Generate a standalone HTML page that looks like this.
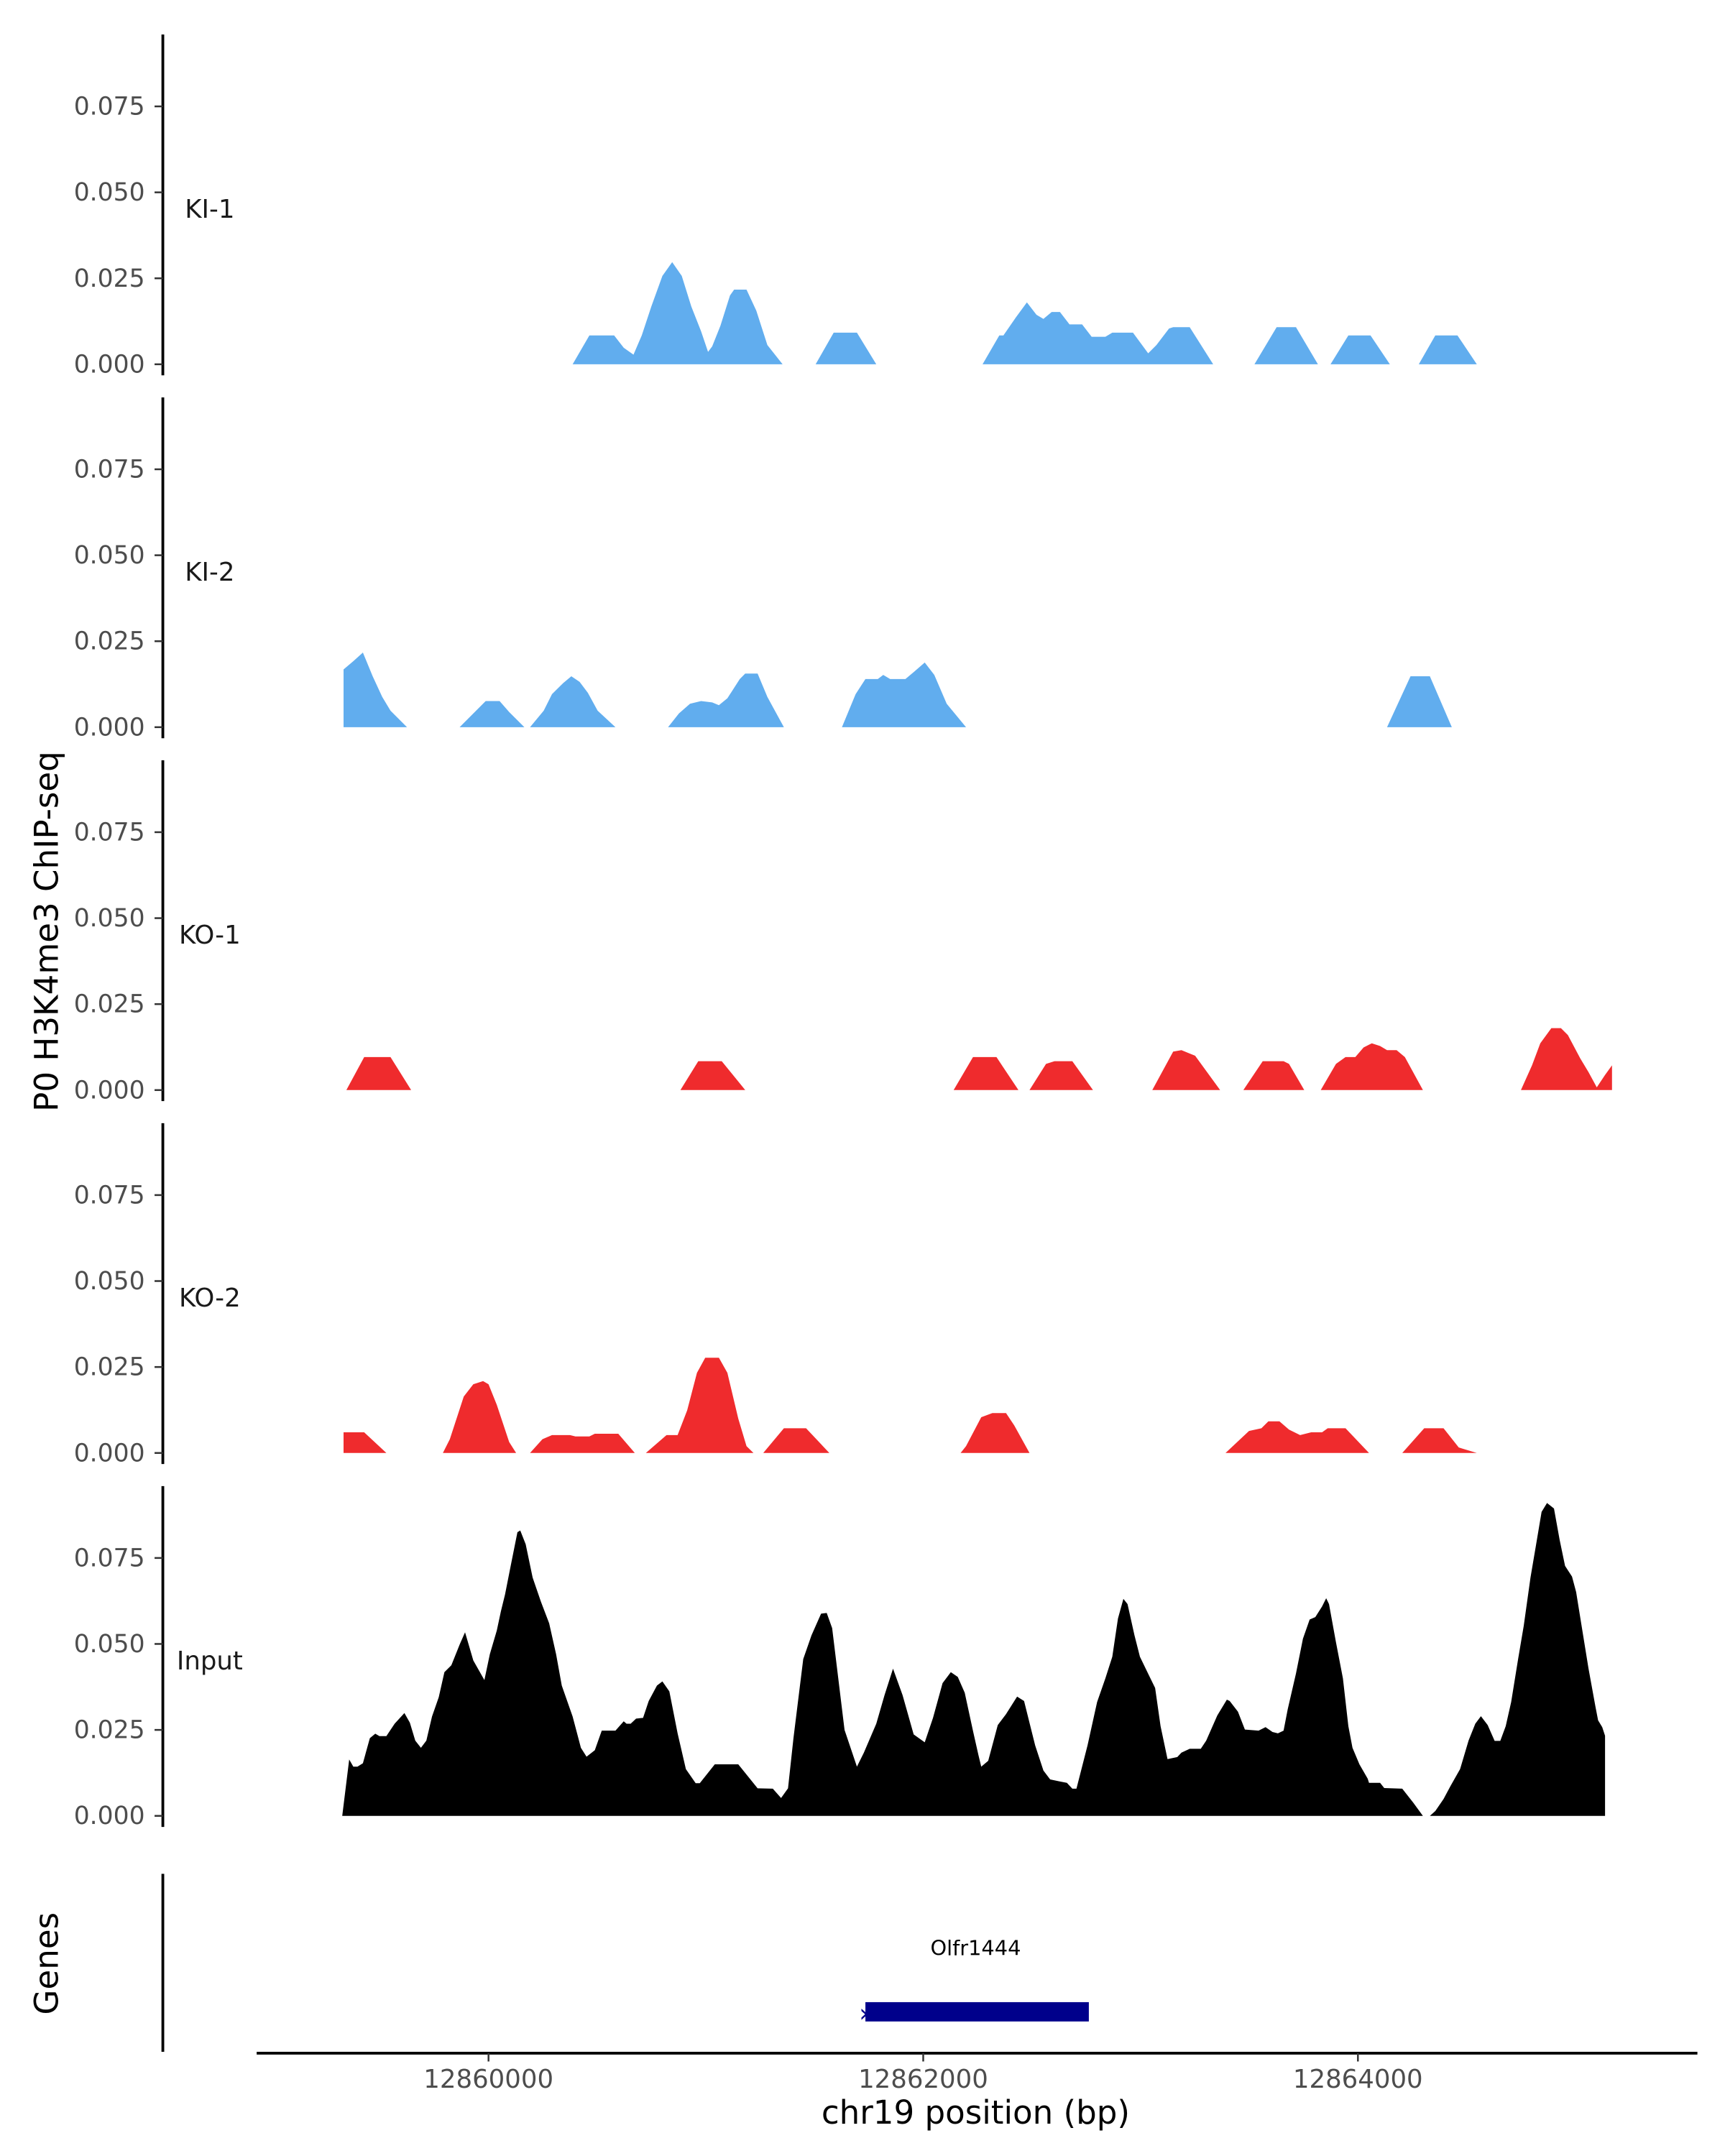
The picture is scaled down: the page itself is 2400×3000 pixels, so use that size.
<!DOCTYPE html>
<html><head><meta charset="utf-8"><style>
html,body{margin:0;padding:0;background:#fff;}
svg{display:block;font-family:"DejaVu Sans","Liberation Sans",sans-serif;}
</style></head><body>
<svg id="chart" width="2400" height="3000" viewBox="0 0 1250 1562.5" xmlns="http://www.w3.org/2000/svg">
<text x="0" y="0" transform="translate(42,675) rotate(-90)" text-anchor="middle" font-size="23.5" fill="#000">P0 H3K4me3 ChIP-seq</text>
<text x="0" y="0" transform="translate(42,1423) rotate(-90)" text-anchor="middle" font-size="23.5" fill="#000">Genes</text>
<text x="707" y="1539" text-anchor="middle" font-size="23.5" fill="#000">chr19 position (bp)</text>
<line x1="118" y1="1358" x2="118" y2="1487" stroke="#000" stroke-width="2"/>
<line x1="186" y1="1488" x2="1230" y2="1488" stroke="#000" stroke-width="2"/>
<text x="707" y="1417" text-anchor="middle" font-size="15" fill="#000">Olfr1444</text>
<g id="panels"></g>
</svg>
<script>
const chromBase = 12860000;
const valueUnit = 0.001;
const xTicks = [12860000, 12862000, 12864000];
const yTicks = [0, 0.025, 0.05, 0.075];
const yTickLabels = ["0.000", "0.025", "0.050", "0.075"];
const panelNames = ["KI-1", "KI-2", "KO-1", "KO-2", "Input"];
const panelColors = ["#61adee", "#61adee", "#ef2b2d", "#ef2b2d", "#000000"];
const geneStart = 12861734;
const geneEnd = 12862762;

const ki1Pos = [387,464,578,622,667,705,749,800,845,889,933,978,1010,1029,1067,1111,1130,1187,1232,1283,1353,1505,1588,1695,1784,2273,2350,2369,2426,2477,2521,2553,2591,2629,2673,2731,2775,2838,2870,2965,3035,3073,3131,3150,3226,3334,3524,3626,3715,3816,3874,3956,4058,4147,4280,4356,4458,4547];
const ki1Val = [0,8.4,8.4,4.8,2.8,8.4,16.8,25.7,29.7,25.7,16.8,9.6,3.6,5.2,11.2,20,21.7,21.7,15.6,5.6,0,0,9.2,9.2,0,0,8.4,8.4,13.6,18,14.4,13.2,15.2,15.2,11.6,11.6,8,8,9.2,9.2,3.2,5.6,10.4,10.8,10.8,0,0,10.8,10.8,0,0,8.4,8.4,0,0,8.4,8.4,0];

const ki2Pos = [-667,-667,-622,-578,-533,-489,-451,-375,-133,-51,-13,51,95,165,191,254,292,343,381,419,457,502,584,826,876,927,978,1029,1060,1099,1156,1181,1238,1283,1359,1626,1689,1734,1791,1816,1848,1918,1956,2007,2051,2108,2197,4134,4242,4331,4432];
const ki2Val = [0,16.8,19.2,21.7,14.8,8.8,4.8,0,0,5.2,7.6,7.6,4.4,0,0,4.8,9.6,12.8,14.8,13.2,10,4.8,0,0,4,6.8,7.6,7.2,6.4,8.4,14,15.6,15.6,8.8,0,0,9.6,14,14,15.2,14,14,16,18.8,15.2,6.8,0,0,14.8,14.8,0];

const ko1Pos = [-654,-572,-451,-356,883,965,1073,1181,2140,2229,2337,2438,2489,2565,2604,2686,2781,3054,3150,3188,3251,3366,3473,3562,3658,3683,3753,3829,3899,3943,3988,4026,4064,4102,4134,4178,4216,4299,4750,4801,4839,4890,4934,4966,5023,5061,5099,5137,5169,5169];
const ko1Val = [0,9.6,9.6,0,0,8.4,8.4,0,0,9.6,9.6,0,0,7.6,8.4,8.4,0,0,11.2,11.6,10,0,0,8.4,8.4,7.6,0,0,7.6,9.6,9.6,12.4,13.6,12.8,11.6,11.6,9.6,0,0,7.2,13.6,18,18,16,9.2,5.2,0.8,4.4,7.2,0];

const ko2Pos = [-667,-667,-572,-470,-210,-178,-114,-70,-25,0,38,95,127,191,248,292,375,400,464,489,597,673,724,819,870,914,959,997,1060,1099,1149,1187,1219,1264,1359,1461,1568,2172,2197,2267,2318,2381,2419,2489,3391,3499,3556,3588,3639,3683,3734,3785,3835,3861,3943,4051,4204,4305,4394,4464,4547];
const ko2Val = [0,6,6,0,0,4,16.4,20,20.9,20,14,3.2,0,0,4,5.2,5.2,4.8,4.8,5.6,5.6,0,0,5.2,5.2,12.4,23.3,27.7,27.7,23.3,10,2,0,0,7.2,7.2,0,0,2,10.4,11.6,11.6,8,0,0,6.4,7.2,9.2,9.2,6.8,5.2,6,6,7.2,7.2,0,0,7.2,7.2,1.6,0];

const inputPos = [-673,-641,-622,-603,-578,-546,-521,-502,-470,-432,-387,-362,-337,-311,-286,-260,-229,-203,-171,-133,-108,-70,-19,6,38,57,76,102,133,146,171,203,241,279,311,337,387,425,451,489,521,584,622,635,654,679,711,737,775,800,832,870,908,953,972,1041,1149,1238,1308,1346,1378,1403,1448,1486,1530,1556,1581,1638,1695,1727,1784,1822,1861,1905,1956,2007,2045,2089,2127,2159,2191,2229,2254,2267,2299,2343,2381,2432,2464,2515,2553,2584,2629,2661,2686,2705,2756,2800,2838,2870,2896,2921,2940,2972,2997,3029,3067,3092,3124,3169,3188,3226,3277,3302,3353,3397,3410,3448,3480,3543,3575,3607,3632,3658,3677,3715,3747,3778,3804,3835,3854,3867,3899,3931,3956,3975,4007,4045,4051,4102,4121,4204,4255,4299,4331,4356,4394,4426,4470,4509,4540,4566,4597,4629,4655,4680,4705,4737,4763,4794,4820,4845,4870,4902,4928,4953,4985,5004,5029,5061,5093,5105,5124,5137,5137];
const inputVal = [0,16.4,14.3,14.3,15.3,22.6,23.9,23.2,23.2,26.8,29.9,27.1,21.9,19.8,21.9,28.9,34.5,41.8,43.8,49.8,53.4,45.2,39.5,47,53.9,59.5,64.4,72.7,82.5,83,79,69.3,62.3,56,47,37.9,28.9,19.8,17.2,19.1,24.8,24.8,27.5,26.8,26.8,28.3,28.5,33.4,37.9,39.1,36.2,24,13.6,9.5,9.5,15,15,8,7.9,5.2,8,22.6,45.6,52.5,58.8,59,54.6,25,14.3,18.4,26.8,35.1,42.8,35.1,23.7,21.4,28.5,38.6,41.8,40.4,35.8,24.7,17.7,14.3,16,26.4,29.6,34.7,33.4,20.5,13.2,10.6,10,9.6,7.9,7.9,20.5,33.1,40,46.3,57.4,63.1,61.6,52.5,46.3,42.1,37.2,26.1,16.5,17.1,18.4,19.5,19.5,21.9,29.2,33.8,33.4,30.3,25.1,24.8,25.8,24.4,24,24.8,31,41.4,51.5,57.1,57.8,60.9,63.3,61.6,50.5,40,26.1,19.8,15,10.8,9.6,9.6,8.1,7.9,3.8,0,0,1.4,4.9,8.7,13.6,21.9,26.8,29,26.4,21.8,21.8,26.1,33.1,45.6,55.3,69.3,79,88.4,91,89.4,80.3,72.7,69.6,65.1,55.3,42.8,31.7,27.8,25.8,23.3,0];

const panelPos = [ki1Pos, ki2Pos, ko1Pos, ko2Pos, inputPos];
const panelVal = [ki1Val, ki2Val, ko1Val, ko2Val, inputVal];

const NS = "http://www.w3.org/2000/svg";
const PX_PER_BP = 315 / 2000;
function xScale(bp) { return 354 + (bp - 12860000) * PX_PER_BP; }
function yScale(panelIndex, v) { return 264 + panelIndex * 263 - v * 2492; }
function mk(tag, attrs) { const e = document.createElementNS(NS, tag); for (const k in attrs) e.setAttribute(k, attrs[k]); return e; }

const g = document.getElementById('panels');
for (let p = 0; p < panelNames.length; p++) {
  const base = yScale(p, 0);
  const axis = mk('line', {x1: 118, x2: 118, y1: base - 239, y2: base + 8, stroke: '#000', 'stroke-width': 2});
  
  
  g.appendChild(axis);
  for (let t = 0; t < yTicks.length; t++) {
    const y = yScale(p, yTicks[t]);
    const tk = mk('line', {x1: 112, x2: 118, y1: y, y2: y, stroke: '#333', 'stroke-width': 1.3});
    
    
    g.appendChild(tk);
    const tl = mk('text', {x: 105, y: y + 6, 'text-anchor': 'end', 'font-size': 18, fill: '#4d4d4d'});
    tl.textContent = yTickLabels[t];
    
    
    g.appendChild(tl);
  }
  const lab = mk('text', {x: 152, y: yScale(p, 0.045) + 6, 'text-anchor': 'middle', 'font-size': 18.5, fill: '#1a1a1a'});
  lab.textContent = panelNames[p];
  
  
  g.appendChild(lab);
  const pos = panelPos[p], val = panelVal[p];
  let d = 'M' + xScale(chromBase + pos[0]).toFixed(2) + ',' + base;
  for (let i = 0; i < pos.length; i++) {
    d += 'L' + xScale(chromBase + pos[i]).toFixed(2) + ',' + yScale(p, val[i] * valueUnit).toFixed(2);
  }
  d += 'L' + xScale(chromBase + pos[pos.length - 1]).toFixed(2) + ',' + base + 'Z';
  const area = mk('path', {d: d, fill: panelColors[p]});
  
  
  g.appendChild(area);
}
for (let t = 0; t < xTicks.length; t++) {
  const x = xScale(xTicks[t]);
  const tk = mk('line', {x1: x, x2: x, y1: 1488, y2: 1494, stroke: '#333', 'stroke-width': 1.3});
  
  
  g.appendChild(tk);
  const tl = mk('text', {x: x, y: 1513, 'text-anchor': 'middle', 'font-size': 18.5, fill: '#4d4d4d'});
  tl.textContent = String(xTicks[t]);
  
  
  g.appendChild(tl);
}
const gx1 = xScale(geneStart), gx2 = xScale(geneEnd);
const gene = mk('rect', {x: gx1, y: 1451, width: gx2 - gx1, height: 14, fill: '#00008b'});


g.appendChild(gene);
const arrow = mk('text', {x: gx1 - 1, y: 1465, 'text-anchor': 'middle', 'font-size': 18, fill: '#00008b'});
arrow.textContent = '›';


g.appendChild(arrow);
</script>
</body></html>
